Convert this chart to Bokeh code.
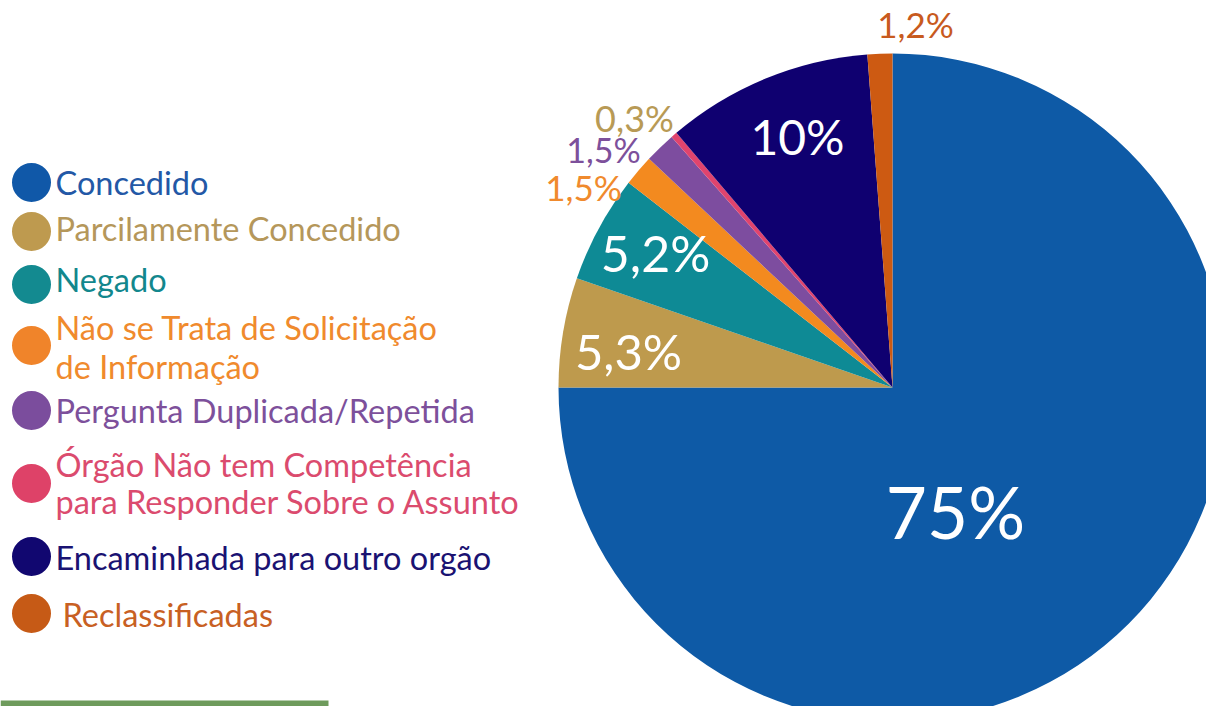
import numpy as np
from bokeh.plotting import figure
from bokeh.models import Range1d, ColumnDataSource
from bokeh.core.properties import value
from bokeh.embed import file_html
from bokeh.resources import INLINE

# ---------------- data ----------------
categories = ["Concedido", "Parcilamente Concedido", "Negado",
              "Não se Trata de Solicitação de Informação",
              "Pergunta Duplicada/Repetida",
              "Órgão Não tem Competência para Responder Sobre o Assunto",
              "Encaminhada para outro orgão", "Reclassificadas"]
values = [75, 5.3, 5.2, 1.5, 1.5, 0.3, 10, 1.2]
pct_labels = ["75%", "5,3%", "5,2%", "1,5%", "1,5%", "0,3%", "10%", "1,2%"]
legend_lines = [["Concedido"], ["Parcilamente Concedido"], ["Negado"],
                ["Não se Trata de Solicitação", "de Informação"],
                ["Pergunta Duplicada/Repetida"],
                ["Órgão Não tem Competência", "para Responder Sobre o Assunto"],
                ["Encaminhada para outro orgão"], ["Reclassificadas"]]

# ---------------- styles ----------------
slice_colors = ["#0E5AA6", "#BE9A4D", "#0E8A95", "#F38A1F",
                "#7D4D9F", "#E0446E", "#0F0070", "#CD5A12"]
legend_dot_colors = ["#1058A8", "#BE9A4F", "#138A90", "#F0842A",
                     "#7B4D9D", "#DE4268", "#110770", "#C65A16"]
legend_text_colors = ["#2358A6", "#B5975A", "#12878D", "#F08A2D",
                      "#7D509B", "#DB4B6E", "#1A1272", "#C86023"]
label_colors = ["white", "white", "white", "#F08A2D",
                "#7D509B", "#B89A55", "white", "#C85A1E"]
FONT = "Lato"

W, H = 1206, 706
SHIFT = 0.4  # baseline correction, fraction of font size


def X(rx):
    return rx


def Y(ry):
    return H - ry


p = figure(width=W, height=H, output_backend="svg", toolbar_location=None,
           x_range=Range1d(0, W), y_range=Range1d(0, H),
           x_axis_location=None, y_axis_location=None, min_border=0)
p.grid.visible = False
p.outline_line_color = None
p.background_fill_color = "white"
p.border_fill_color = "white"

# ---------------- pie ----------------
vals = np.array(values, dtype=float)
cum = np.cumsum(vals) / vals.sum()
prev = cum - vals / vals.sum()
start = np.pi / 2 - 2 * np.pi * prev
end = np.pi / 2 - 2 * np.pi * cum
src = ColumnDataSource(dict(cat=categories, start=start, end=end, color=slice_colors))
p.wedge(x=X(892), y=Y(387), radius=334, start_angle="start", end_angle="end",
        direction="clock", fill_color="color", line_color=None, source=src)

# percentage labels: (ref x centre, ref baseline, font px)
label_layout = [(955, 539, 71), (628, 370, 49), (655, 272, 50), (583, 200, 35),
                (603, 163, 34), (634, 132, 36), (797, 155, 48), (915, 37, 35)]
for lab, col, (lx, ly, fs) in zip(pct_labels, label_colors, label_layout):
    p.text(x=[X(lx)], y=[Y(ly - SHIFT * fs)], text=[lab], text_color=col,
           text_font=value(FONT), text_font_size=f"{fs}px",
           text_align="center", text_baseline="alphabetic")

# ---------------- legend ----------------
LFS = 32.5
dot_cy = [182, 231, 284, 345, 410, 483, 556, 613]
text_x = [55, 55, 55, 55, 55, 55, 55, 62]
baselines = [[195], [241], [292], [340, 379], [423], [477, 514], [570], [627]]
p.scatter(x=[X(31)] * len(dot_cy), y=[Y(c) for c in dot_cy], size=39,
          marker="circle", fill_color=legend_dot_colors, line_color=None)
for lines, col, tx, bls in zip(legend_lines, legend_text_colors, text_x, baselines):
    for ln, bl in zip(lines, bls):
        p.text(x=[X(tx)], y=[Y(bl - SHIFT * LFS)], text=[ln], text_color=col,
               text_font=value(FONT), text_font_size=f"{LFS}px",
               text_align="left", text_baseline="alphabetic")

# green strip at the bottom left
p.quad(left=[0], right=[328], bottom=[0], top=[6], fill_color="#6E9B5C", line_color=None)

open("out.html", "w").write(file_html(p, INLINE))
